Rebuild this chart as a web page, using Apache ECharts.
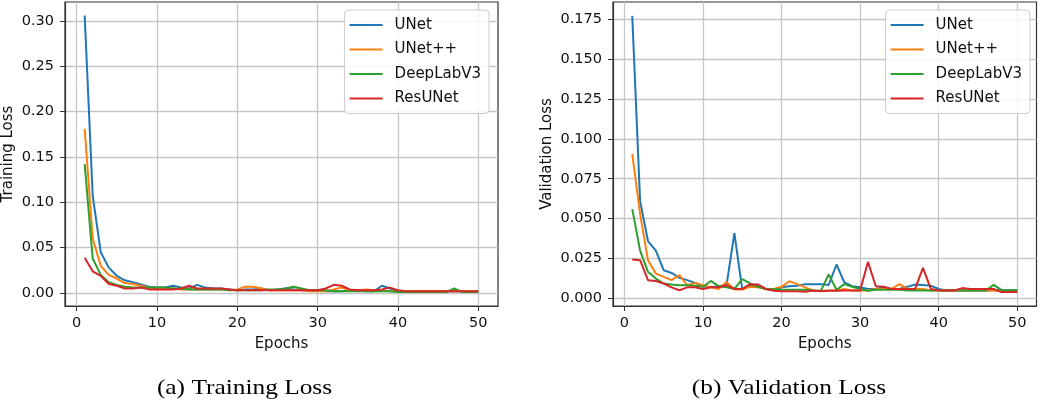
<!DOCTYPE html>
<html lang="en">
<head>
    <meta charset="UTF-8">
    <title>Training / Validation Loss</title>
    <script src="https://cdn.jsdelivr.net/npm/echarts@6/dist/echarts.min.js"></script>
    <style>
        html, body { margin: 0; padding: 0; background: #fff; }
        #chart { width: 1040px; height: 404px; }
    </style>
</head>
<body>
<div id="chart"></div>

<script>
    // model names, in legend order
    const models = ["UNet", "UNet++", "DeepLabV3", "ResUNet"];
    const colors = ["#1f77b4", "#ff7f0e", "#2ca02c", "#d62728"];

    // epochs 1..50
    const epochs = [1, 2, 3, 4, 5, 6, 7, 8, 9, 10, 11, 12, 13, 14, 15, 16, 17, 18, 19, 20,
        21, 22, 23, 24, 25, 26, 27, 28, 29, 30, 31, 32, 33, 34, 35, 36, 37, 38, 39, 40,
        41, 42, 43, 44, 45, 46, 47, 48, 49, 50];

    // training loss
    const unetTrain = [0.306, 0.107, 0.045, 0.028, 0.019, 0.014, 0.012, 0.0095, 0.007, 0.006,
        0.006, 0.008, 0.006, 0.005, 0.009, 0.006, 0.005, 0.005, 0.004, 0.003,
        0.004, 0.004, 0.005, 0.003, 0.004, 0.005, 0.004, 0.003, 0.003, 0.003,
        0.002, 0.002, 0.002, 0.003, 0.003, 0.002, 0.002, 0.008, 0.005, 0.002,
        0.002, 0.002, 0.002, 0.002, 0.002, 0.002, 0.002, 0.002, 0.002, 0.002];
    const unetppTrain = [0.181, 0.060, 0.030, 0.020, 0.016, 0.011, 0.010, 0.008, 0.006, 0.005,
        0.005, 0.005, 0.004, 0.004, 0.004, 0.004, 0.004, 0.004, 0.003, 0.004,
        0.007, 0.007, 0.005, 0.003, 0.003, 0.003, 0.003, 0.003, 0.002, 0.002,
        0.002, 0.004, 0.006, 0.003, 0.003, 0.004, 0.003, 0.003, 0.002, 0.002,
        0.002, 0.002, 0.002, 0.002, 0.002, 0.002, 0.002, 0.002, 0.002, 0.002];
    const deeplabTrain = [0.142, 0.038, 0.020, 0.012, 0.009, 0.007, 0.006, 0.006, 0.006, 0.006,
        0.006, 0.005, 0.005, 0.004, 0.004, 0.004, 0.004, 0.004, 0.003, 0.003,
        0.003, 0.003, 0.003, 0.004, 0.004, 0.005, 0.007, 0.005, 0.003, 0.003,
        0.003, 0.002, 0.002, 0.002, 0.002, 0.002, 0.002, 0.002, 0.002, 0.001,
        0.001, 0.001, 0.001, 0.001, 0.001, 0.001, 0.005, 0.001, 0.001, 0.001];
    const resunetTrain = [0.039, 0.024, 0.019, 0.010, 0.008, 0.005, 0.005, 0.006, 0.004, 0.004,
        0.004, 0.004, 0.005, 0.008, 0.005, 0.005, 0.005, 0.005, 0.004, 0.003,
        0.003, 0.003, 0.003, 0.003, 0.003, 0.003, 0.003, 0.003, 0.003, 0.003,
        0.005, 0.009, 0.008, 0.004, 0.003, 0.003, 0.003, 0.004, 0.006, 0.003,
        0.002, 0.002, 0.002, 0.002, 0.002, 0.002, 0.002, 0.002, 0.002, 0.002];

    // validation loss
    const unetVal = [0.177, 0.061, 0.036, 0.030, 0.0177, 0.016, 0.013, 0.0115, 0.0098, 0.0077,
        0.007, 0.0077, 0.0083, 0.041, 0.0056, 0.008, 0.0077, 0.006, 0.0055, 0.007,
        0.0077, 0.008, 0.009, 0.009, 0.009, 0.0085, 0.0213, 0.01, 0.0077, 0.007,
        0.006, 0.006, 0.007, 0.006, 0.006, 0.0073, 0.0088, 0.0085, 0.008, 0.006,
        0.005, 0.005, 0.005, 0.005, 0.005, 0.005, 0.0052, 0.0052, 0.0052, 0.0052];
    const unetppVal = [0.0906, 0.053, 0.024, 0.0156, 0.0135, 0.0115, 0.0146, 0.0083, 0.0098, 0.0083,
        0.007, 0.006, 0.0104, 0.0056, 0.0056, 0.0073, 0.007, 0.006, 0.006, 0.0073,
        0.0108, 0.009, 0.007, 0.005, 0.0048, 0.005, 0.005, 0.006, 0.005, 0.005,
        0.005, 0.006, 0.006, 0.006, 0.009, 0.006, 0.006, 0.006, 0.005, 0.005,
        0.005, 0.005, 0.005, 0.005, 0.005, 0.005, 0.005, 0.0045, 0.0045, 0.0045];
    const deeplabVal = [0.056, 0.030, 0.0167, 0.0125, 0.0094, 0.0088, 0.0083, 0.0083, 0.008, 0.0073,
        0.011, 0.0077, 0.007, 0.006, 0.0122, 0.0094, 0.0073, 0.006, 0.0058, 0.0056,
        0.0055, 0.0055, 0.0055, 0.005, 0.0048, 0.015, 0.0055, 0.009, 0.0073, 0.006,
        0.0048, 0.0055, 0.0055, 0.0055, 0.0055, 0.005, 0.005, 0.005, 0.005, 0.005,
        0.005, 0.005, 0.005, 0.005, 0.005, 0.005, 0.0085, 0.0052, 0.0052, 0.0052];
    const resunetVal = [0.0244, 0.024, 0.0115, 0.011, 0.0094, 0.007, 0.0052, 0.007, 0.007, 0.006,
        0.007, 0.007, 0.0083, 0.006, 0.006, 0.009, 0.0088, 0.006, 0.0048, 0.0045,
        0.0045, 0.0045, 0.0042, 0.005, 0.0045, 0.0048, 0.0048, 0.005, 0.005, 0.005,
        0.0229, 0.0077, 0.0073, 0.006, 0.006, 0.006, 0.006, 0.0192, 0.006, 0.0052,
        0.005, 0.005, 0.0065, 0.006, 0.006, 0.006, 0.006, 0.004, 0.004, 0.004];

    // tick labels
    const xTicks = [0, 10, 20, 30, 40, 50];
    const trainTicks = [0, 0.05, 0.10, 0.15, 0.20, 0.25, 0.30];
    const valTicks = [0, 0.025, 0.050, 0.075, 0.100, 0.125, 0.150, 0.175];

    const trainSets = [unetTrain, unetppTrain, deeplabTrain, resunetTrain];
    const valSets = [unetVal, unetppVal, deeplabVal, resunetVal];

    const font = "DejaVu Sans";
    const ink = "#111";

    function pairs(values) {
        return epochs.map((e, i) => [e, values[i]]);
    }

    function make_x_axis(gridIndex) {
        return {
            type: 'value', gridIndex: gridIndex,
            min: -1.45, max: 52.45,
            name: 'Epochs', nameLocation: 'middle', nameGap: 31,
            nameTextStyle: {fontFamily: font, fontSize: 15, color: ink},
            axisLine: {show: true, onZero: false, lineStyle: {color: '#333', width: 1.2}},
            axisTick: {show: true, length: 5, customValues: xTicks, lineStyle: {color: '#333'}},
            axisLabel: {customValues: xTicks, margin: 10, fontFamily: font, fontSize: 14.5, color: ink},
            splitLine: {show: true, lineStyle: {color: '#c6c6c6', width: 1.3}}
        };
    }

    function make_y_axis(gridIndex, name, min, max, ticks, digits, gap) {
        return {
            type: 'value', gridIndex: gridIndex,
            min: min, max: max,
            name: name, nameLocation: 'middle', nameGap: gap,
            nameTextStyle: {fontFamily: font, fontSize: 15, color: ink},
            axisLine: {show: true, onZero: false, lineStyle: {color: '#333', width: 1.2}},
            axisTick: {show: true, length: 5, customValues: ticks, lineStyle: {color: '#333'}},
            axisLabel: {
                customValues: ticks, margin: 11, fontFamily: font, fontSize: 14.5, color: ink,
                formatter: (v) => v.toFixed(digits)
            },
            splitLine: {show: true, lineStyle: {color: '#c6c6c6', width: 1.3}}
        };
    }

    function make_legend(right) {
        return {
            data: models, orient: 'vertical', top: 10, right: right,
            icon: 'rect', itemWidth: 33, itemHeight: 2.2, itemGap: 6.5,
            padding: [6, 8, 6, 5],
            backgroundColor: 'rgba(255,255,255,0.85)',
            borderColor: '#cccccc', borderWidth: 1, borderRadius: 4,
            textStyle: {fontFamily: font, fontSize: 15, color: ink, lineHeight: 18, padding: [0, 0, 0, 7]}
        };
    }

    const series = [];
    models.forEach((m, i) => {
        series.push({
            name: m, type: 'line', xAxisIndex: 0, yAxisIndex: 0,
            data: pairs(trainSets[i]), showSymbol: false, symbol: 'none',
            lineStyle: {color: colors[i], width: 2}, itemStyle: {color: colors[i]}
        });
    });
    models.forEach((m, i) => {
        series.push({
            name: m, type: 'line', xAxisIndex: 1, yAxisIndex: 1,
            data: pairs(valSets[i]), showSymbol: false, symbol: 'none',
            lineStyle: {color: colors[i], width: 2}, itemStyle: {color: colors[i]}
        });
    });

    const chart = echarts.init(document.getElementById('chart'), null, {renderer: 'canvas'});
    chart.setOption({
        animation: false,
        backgroundColor: '#fff',
        grid: [
            {left: 65, right: 542, top: 2, bottom: 98, show: true, borderColor: '#333', borderWidth: 1.2},
            {left: 613, right: 3.5, top: 2, bottom: 98, show: true, borderColor: '#333', borderWidth: 1.2}
        ],
        xAxis: [make_x_axis(0), make_x_axis(1)],
        yAxis: [
            make_y_axis(0, 'Training Loss', -0.0143, 0.3208, trainTicks, 2, 49),
            make_y_axis(1, 'Validation Loss', -0.0047, 0.1857, valTicks, 3, 58)
        ],
        legend: [make_legend(551), make_legend(10)],
        series: series,
        graphic: [
            {
                type: 'text', x: 244.5, y: 388, scaleX: 1.18,
                style: {text: '(a) Training Loss', font: '21.5px "Liberation Serif"', fill: '#000',
                    textAlign: 'center', textVerticalAlign: 'middle'}
            },
            {
                type: 'text', x: 789, y: 388, scaleX: 1.18,
                style: {text: '(b) Validation Loss', font: '21.5px "Liberation Serif"', fill: '#000',
                    textAlign: 'center', textVerticalAlign: 'middle'}
            }
        ]
    });
</script>
</body>
</html>
